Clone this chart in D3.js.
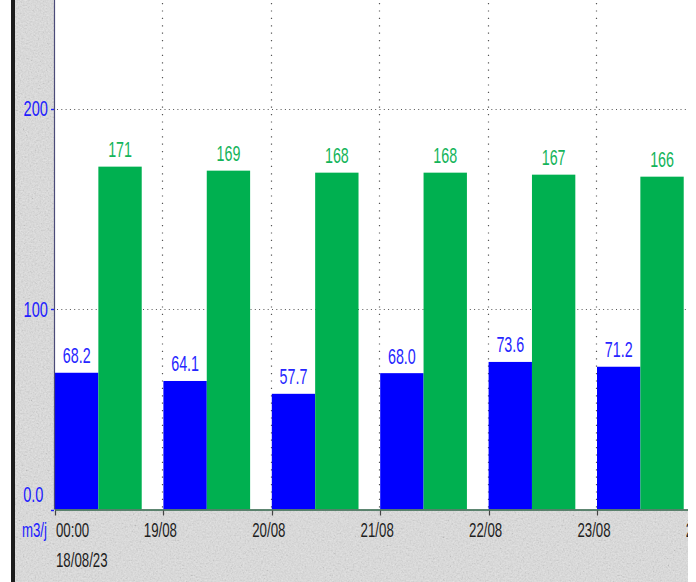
<!DOCTYPE html>
<html>
<head>
<meta charset="utf-8">
<style>
    body { margin: 0; background: #fff; }
    svg { display: block; }
</style>
</head>
<body>
    <div id="chart"></div>

    <script src="https://cdnjs.cloudflare.com/ajax/libs/d3/7.8.5/d3.min.js"></script>
    <script type="text/javascript">
        // daily volumes (m3/j)
        var days = ["2023-08-18", "2023-08-19", "2023-08-20", "2023-08-21", "2023-08-22", "2023-08-23"];
        var blueValues = [68.2, 64.1, 57.7, 68.0, 73.6, 71.2];
        var greenValues = [171, 169, 168, 168, 167, 166];
        var blueLabels = ["68.2", "64.1", "57.7", "68.0", "73.6", "71.2"];
        var greenLabels = ["171", "169", "168", "168", "167", "166"];
        var yTicks = [0, 100, 200];
        var yTickLabels = ["0.0", "100", "200"];
        var xTickDays = ["2023-08-18", "2023-08-19", "2023-08-20", "2023-08-21", "2023-08-22", "2023-08-23", "2023-08-24"];
        var xTickLabels = ["00:00", "19/08", "20/08", "21/08", "22/08", "23/08", "24/08"];
        var unitLabel = "m3/j";
        var firstDateLabel = "18/08/23";

        var w = 696;
        var h = 582;
        var pLeft = 55, pRight = 688, pTop = 0, pBottom = 509.5;

        var parse = d3.utcParse("%Y-%m-%d");

        var x = d3.scaleUtc()
            .domain([parse("2023-08-18"), parse("2023-08-24")])
            .range([pLeft, pLeft + 6 * 108.4]);

        var y = d3.scaleLinear()
            .domain([0, 200])
            .range([pBottom, 108.5]);

        var dayW = x(parse("2023-08-19")) - x(parse("2023-08-18"));
        var barW = dayW * 0.4;

        var svg = d3.select('#chart')
            .append('svg')
            .attr('width', w)
            .attr('height', h)
            .attr('viewBox', "0,0," + w + "," + h);

        var defs = svg.append('defs');

        var noise = defs.append('filter')
            .attr('id', 'noise')
            .attr('x', 0).attr('y', 0).attr('width', '100%').attr('height', '100%');
        noise.append('feTurbulence')
            .attr('type', 'fractalNoise')
            .attr('baseFrequency', 0.6)
            .attr('numOctaves', 3)
            .attr('seed', 4);
        noise.append('feColorMatrix')
            .attr('type', 'matrix')
            .attr('values', "0.33 0.33 0.33 0 0  0.33 0.33 0.33 0 0  0.33 0.33 0.33 0 0  0 0 0 0 1");
        var ct = noise.append('feComponentTransfer');
        ["feFuncR", "feFuncG", "feFuncB"].forEach(function (f) {
            ct.append(f).attr('type', 'linear').attr('slope', 2.0).attr('intercept', -0.45);
        });

        defs.append('clipPath')
            .attr('id', 'plotClip')
            .append('rect')
            .attr('x', pLeft)
            .attr('y', pTop)
            .attr('width', pRight - pLeft)
            .attr('height', pBottom - pTop);

        defs.append('clipPath')
            .attr('id', 'frameClip')
            .append('rect')
            .attr('x', 0)
            .attr('y', 0)
            .attr('width', pRight)
            .attr('height', h);

        // textured gray frame
        svg.append('rect')
            .attr('x', 15).attr('y', 0)
            .attr('width', pRight - 15).attr('height', h)
            .attr('fill', '#dddddd');
        svg.append('rect')
            .attr('x', 15).attr('y', 0)
            .attr('width', pRight - 15).attr('height', h)
            .attr('filter', 'url(#noise)')
            .attr('opacity', 0.16);

        // dark left border
        svg.append('rect')
            .attr('x', 11).attr('y', 0)
            .attr('width', 4).attr('height', h)
            .attr('fill', '#1c1c1c');

        // plot area
        svg.append('rect')
            .attr('x', pLeft).attr('y', pTop)
            .attr('width', pRight - pLeft).attr('height', pBottom - pTop)
            .attr('fill', '#ffffff');

        var plot = svg.append('g').attr('clip-path', 'url(#plotClip)');

        // grid
        plot.selectAll('line.hgrid')
            .data(yTicks.filter(function (d) { return d > 0; }))
            .enter()
            .append('line')
            .attr('class', 'hgrid')
            .attr('x1', pLeft + 2)
            .attr('x2', pRight)
            .attr('y1', function (d) { return Math.round(y(d)) + 0.5; })
            .attr('y2', function (d) { return Math.round(y(d)) + 0.5; })
            .attr('stroke', '#555')
            .attr('stroke-width', 1.1)
            .attr('stroke-dasharray', '1,3.3');

        plot.selectAll('line.vgrid')
            .data(xTickDays.slice(1))
            .enter()
            .append('line')
            .attr('class', 'vgrid')
            .attr('x1', function (d) { return Math.round(x(parse(d))) - 0.5; })
            .attr('x2', function (d) { return Math.round(x(parse(d))) - 0.5; })
            .attr('y1', pTop + 3)
            .attr('y2', pBottom)
            .attr('stroke', '#555')
            .attr('stroke-width', 1.2)
            .attr('stroke-dasharray', '1.2,6.2');

        // bars
        plot.selectAll('rect.blue')
            .data(blueValues)
            .enter()
            .append('rect')
            .attr('class', 'blue')
            .attr('x', function (d, i) { return x(parse(days[i])); })
            .attr('y', function (d) { return y(d); })
            .attr('width', barW)
            .attr('height', function (d) { return pBottom - y(d); })
            .attr('fill', '#0000ff');

        plot.selectAll('rect.green')
            .data(greenValues)
            .enter()
            .append('rect')
            .attr('class', 'green')
            .attr('x', function (d, i) { return x(parse(days[i])) + barW; })
            .attr('y', function (d) { return y(d); })
            .attr('width', barW)
            .attr('height', function (d) { return pBottom - y(d); })
            .attr('fill', '#00b050');

        var sx = 0.68;
        function tall(sel, px, py) {
            sel.attr('transform', function (d, i) {
                return "translate(" + px(d, i) + "," + py(d, i) + ") scale(" + sx + ",1.04)";
            });
        }

        // bar value labels
        plot.selectAll('text.blueLabel')
            .data(blueValues)
            .enter()
            .append('text')
            .attr('class', 'blueLabel')
            .text(function (d, i) { return blueLabels[i]; })
            .attr('text-anchor', 'middle')
            .style('font-family', 'Liberation Sans, Arial, sans-serif')
            .style('font-size', '21px')
            .attr('fill', '#2626ff')
            .call(tall,
                function (d, i) { return x(parse(days[i])) + barW / 2; },
                function (d) { return y(d) - 9.5; });

        plot.selectAll('text.greenLabel')
            .data(greenValues)
            .enter()
            .append('text')
            .attr('class', 'greenLabel')
            .text(function (d, i) { return greenLabels[i]; })
            .attr('text-anchor', 'middle')
            .style('font-family', 'Liberation Sans, Arial, sans-serif')
            .style('font-size', '21px')
            .attr('fill', '#14b45a')
            .call(tall,
                function (d, i) { return x(parse(days[i])) + barW * 1.5; },
                function (d) { return y(d) - 9.5; });

        // axes lines
        svg.append('line')
            .attr('x1', pLeft - 0.5).attr('x2', pLeft - 0.5)
            .attr('y1', 0).attr('y2', pBottom)
            .attr('stroke', '#4b4b78')
            .attr('stroke-width', 1.2);

        svg.append('line')
            .attr('x1', pLeft).attr('x2', pRight)
            .attr('y1', pBottom + 0.5).attr('y2', pBottom + 0.5)
            .attr('stroke', '#2f6449')
            .attr('stroke-width', 1.4);

        // y ticks + labels
        svg.selectAll('line.ytick')
            .data(yTicks)
            .enter()
            .append('line')
            .attr('class', 'ytick')
            .attr('x1', 51).attr('x2', pLeft - 1)
            .attr('y1', function (d) { return Math.round(y(d)) + 0.5; })
            .attr('y2', function (d) { return Math.round(y(d)) + 0.5; })
            .attr('stroke', '#2020ff')
            .attr('stroke-width', 1.4);

        svg.selectAll('text.ylabel')
            .data(yTicks)
            .enter()
            .append('text')
            .attr('class', 'ylabel')
            .text(function (d, i) { return yTickLabels[i]; })
            .attr('text-anchor', 'end')
            .style('font-family', 'Liberation Sans, Arial, sans-serif')
            .style('font-size', '21.5px')
            .attr('fill', '#2020ff')
            .call(tall,
                function (d) { return d === 0 ? 43.5 : 48; },
                function (d) { return d === 0 ? 502 : y(d) + 7.5; });

        svg.append('text')
            .text(unitLabel)
            .attr('text-anchor', 'end')
            .style('font-family', 'Liberation Sans, Arial, sans-serif')
            .style('font-size', '19.5px')
            .attr('fill', '#2020ff')
            .call(tall, function () { return 47; }, function () { return 537; });

        // x ticks + labels
        var xaxis = svg.append('g').attr('clip-path', 'url(#frameClip)');

        xaxis.selectAll('line.xtick')
            .data(xTickDays)
            .enter()
            .append('line')
            .attr('class', 'xtick')
            .attr('x1', function (d) { return Math.round(x(parse(d))) + 0.5; })
            .attr('x2', function (d) { return Math.round(x(parse(d))) + 0.5; })
            .attr('y1', pBottom + 1)
            .attr('y2', pBottom + 6)
            .attr('stroke', '#444')
            .attr('stroke-width', 1.2);

        xaxis.selectAll('text.xlabel')
            .data(xTickDays)
            .enter()
            .append('text')
            .attr('class', 'xlabel')
            .text(function (d, i) { return xTickLabels[i]; })
            .attr('text-anchor', function (d, i) { return i === 0 ? 'start' : 'middle'; })
            .style('font-family', 'Liberation Sans, Arial, sans-serif')
            .style('font-size', '19.5px')
            .attr('fill', '#1e1e1e')
            .call(tall,
                function (d, i) { return i === 0 ? x(parse(d)) + 1 : x(parse(d)) - 3; },
                function () { return 537; });

        xaxis.append('text')
            .text(firstDateLabel)
            .style('font-family', 'Liberation Sans, Arial, sans-serif')
            .style('font-size', '19.5px')
            .attr('fill', '#1e1e1e')
            .call(tall, function () { return x(parse(days[0])) + 1; }, function () { return 567; });
    </script>
</body>
</html>
